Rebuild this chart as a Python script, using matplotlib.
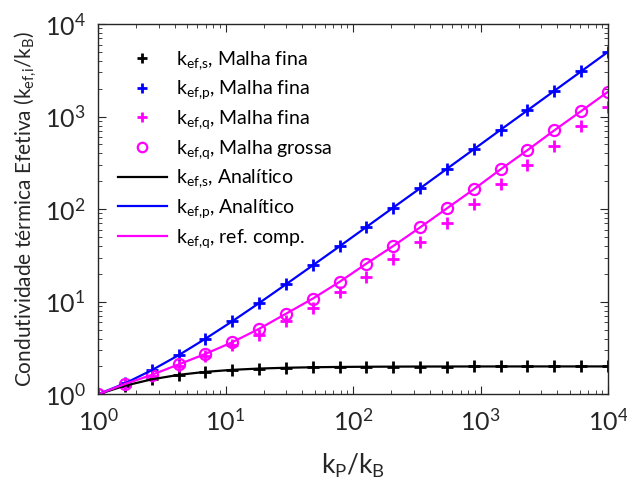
import matplotlib
matplotlib.use("Agg")
import matplotlib.pyplot as plt
from matplotlib.ticker import LogLocator, NullFormatter

plt.rcParams['font.family'] = ['Lato', 'DejaVu Sans']
plt.rcParams['mathtext.fontset'] = 'custom'
plt.rcParams['mathtext.rm'] = 'Lato'
plt.rcParams['mathtext.it'] = 'Lato'

# k_P/k_B (20 pontos, log espaçado)
kp = [1.0, 1.624, 2.637, 4.281, 6.952, 11.29, 18.33, 29.76, 48.33, 78.48,
      127.4, 206.9, 336.0, 545.6, 885.9, 1438.0, 2336.0, 3793.0, 6158.0, 10000.0]

# série (s), paralelo (p), quadrado (q)
kef_s = [1.0, 1.238, 1.450, 1.621, 1.747, 1.837, 1.897, 1.935, 1.959, 1.975,
         1.984, 1.990, 1.994, 1.996, 1.998, 1.999, 1.999, 2.0, 2.0, 2.0]
kef_p = [1.0, 1.31, 1.82, 2.64, 3.98, 6.14, 9.66, 15.4, 24.7, 39.7,
         64.2, 104.0, 168.0, 273.0, 443.0, 720.0, 1168.0, 1897.0, 3079.0, 5000.0]
kef_q_fina = [1.0, 1.28, 1.56, 2.02, 2.62, 3.43, 4.41, 6.15, 8.6, 12.6,
              18.5, 28.6, 44.7, 71.1, 115.0, 185.0, 299.0, 483.0, 783.0, 1276.0]
kef_q_grossa = [1.0, 1.29, 1.62, 2.1, 2.73, 3.65, 5.09, 7.41, 10.8, 16.4,
                25.8, 40.0, 63.5, 102.0, 164.0, 269.0, 434.0, 710.0, 1146.0, 1853.0]

fig = plt.figure(figsize=(6.27, 4.86), dpi=100)
ax = fig.add_axes([0.1563, 0.1887, 0.8134, 0.7619])

ax.plot(kp, kef_s, '+', color='k', ms=8, mew=2, label=r'k$_{\mathrm{ef{,}s}}$, Malha fina')
ax.plot(kp, kef_p, '+', color='#0000ff', ms=8, mew=2, label=r'k$_{\mathrm{ef{,}p}}$, Malha fina')
ax.plot(kp, kef_q_fina, '+', color='#ff00ff', ms=8, mew=2, label=r'k$_{\mathrm{ef{,}q}}$, Malha fina')
ax.plot(kp, kef_q_grossa, 'o', color='#ff00ff', mfc='none', ms=8, mew=1.6, label=r'k$_{\mathrm{ef{,}q}}$, Malha grossa')
ax.plot(kp, kef_s, '-', color='k', lw=1.6, label=r'k$_{\mathrm{ef{,}s}}$, Analítico')
ax.plot(kp, kef_p, '-', color='#0000ff', lw=1.6, label=r'k$_{\mathrm{ef{,}p}}$, Analítico')
ax.plot(kp, kef_q_grossa, '-', color='#ff00ff', lw=1.6, label=r'k$_{\mathrm{ef{,}q}}$, ref. comp.')

ax.set_xscale('log')
ax.set_yscale('log')
ax.set_xlim(1, 1e4)
ax.set_ylim(1, 1e4)
for a in (ax.xaxis, ax.yaxis):
    a.set_major_locator(LogLocator(base=10, numticks=10))
    a.set_minor_locator(LogLocator(base=10, subs=range(2, 10), numticks=10))
    a.set_minor_formatter(NullFormatter())

ax.tick_params(which='both', direction='in', top=True, right=True, color='#262626')
ax.tick_params(which='major', length=6, labelsize=18, labelcolor='#262626')
ax.tick_params(axis='x', which='major', pad=10)
ax.tick_params(axis='y', which='major', pad=9)
ax.tick_params(which='minor', length=3)
for s in ax.spines.values():
    s.set_color('#262626')
    s.set_linewidth(1.0)

ax.set_xlabel(r'k$_\mathrm{P}$/k$_\mathrm{B}$', fontsize=19, color='#262626', labelpad=12)
ax.set_ylabel(r'Condutividade térmica Efetiva (k$_{\mathrm{ef{,}i}}$/k$_\mathrm{B}$)', fontsize=15,
              color='#262626', labelpad=4)

ax.legend(loc='upper left', bbox_to_anchor=(0.039, 0.932), frameon=False, fontsize=14,
          handlelength=2.5, labelspacing=0.35, borderaxespad=0, borderpad=0,
          handletextpad=0.5, markerscale=0.85)

fig.savefig('out.png', dpi=100)
